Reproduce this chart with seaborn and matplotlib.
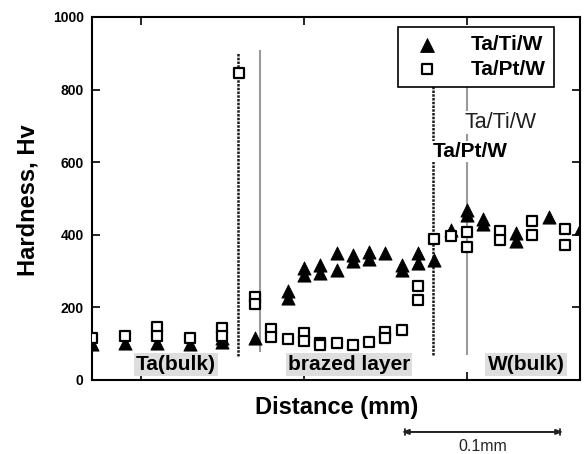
import numpy as np
import pandas as pd
import matplotlib
matplotlib.use("Agg")
import matplotlib.pyplot as plt
import seaborn as sns

# Hardness traverse across the joint (distance in mm, hardness in Hv)
titi_x = [0.07, 0.09, 0.11, 0.13, 0.15, 0.15, 0.17, 0.19, 0.19, 0.20, 0.20,
          0.21, 0.21, 0.22, 0.22, 0.23, 0.23, 0.24, 0.24, 0.25, 0.26, 0.26,
          0.27, 0.27, 0.28, 0.29, 0.30, 0.30, 0.31, 0.31, 0.33, 0.33, 0.35, 0.37]
titi_hv = [99, 103, 101, 99, 115, 106, 115, 246, 225, 309, 290,
           316, 294, 350, 303, 345, 327, 352, 333, 350, 318, 304,
           349, 322, 331, 414, 469, 455, 444, 430, 406, 382, 448, 418]

ptw_x = [0.07, 0.09, 0.11, 0.11, 0.13, 0.15, 0.15, 0.16, 0.17, 0.17, 0.18, 0.18,
         0.19, 0.20, 0.20, 0.21, 0.21, 0.22, 0.23, 0.24, 0.25, 0.25, 0.26,
         0.27, 0.27, 0.28, 0.29, 0.30, 0.30, 0.32, 0.32, 0.34, 0.34, 0.36, 0.36]
ptw_hv = [115, 121, 147, 120, 115, 143, 120, 846, 228, 210, 140, 118,
          112, 130, 108, 101, 97, 103, 97, 106, 133, 115, 138,
          260, 219, 389, 398, 407, 366, 410, 385, 439, 400, 417, 372]

series_names = ["Ta/Ti/W", "Ta/Pt/W"]
region_names = ["Ta(bulk)", "brazed layer", "W(bulk)"]
region_x = [0.1215, 0.2276, 0.3362]

# interface positions (mm): dotted = Ta/Pt/W, grey = Ta/Ti/W
iface_ptw = [0.1595, 0.279]
iface_titi = [0.173, 0.3003]

titi = pd.DataFrame({"distance": titi_x, "hardness": titi_hv})
ptw = pd.DataFrame({"distance": ptw_x, "hardness": ptw_hv})

sns.set_style("ticks")
plt.rcParams["font.family"] = ["Liberation Sans", "DejaVu Sans"]
plt.rcParams.update({"text.color": "black", "axes.labelcolor": "black",
                     "xtick.color": "black", "ytick.color": "black"})

fig = plt.figure(figsize=(5.84, 4.54), dpi=100)
ax = fig.add_axes([0.1575, 0.163, 0.8356, 0.7996])

# interface lines
ax.vlines(iface_ptw[0], 66, 902, colors="#1a1a1a", linestyles=(0, (1, 0.5)), lw=1.8, zorder=1)
ax.vlines(iface_titi[0], 76, 910, colors="#9a9a9a", lw=1.5, zorder=1)
ax.vlines(iface_ptw[1], 69, 820, colors="#1a1a1a", linestyles=(0, (1, 0.5)), lw=1.8, zorder=1)
ax.vlines(iface_titi[1], 69, 820, colors="#9a9a9a", lw=1.5, zorder=1)

sns.scatterplot(data=titi, x="distance", y="hardness", ax=ax, marker="^", s=90,
                color="black", edgecolor="black", linewidth=0.6,
                label=series_names[0], zorder=3)
sns.scatterplot(data=ptw, x="distance", y="hardness", ax=ax, marker="s", s=52,
                color="white", edgecolor="black", linewidth=1.6,
                label=series_names[1], zorder=4)

ax.set_xlim(0.07, 0.3693)
ax.set_ylim(0, 1000)
ax.set_yticks([0, 200, 400, 600, 800, 1000])
ax.set_xticks([0.1, 0.2, 0.3])
ax.set_xticklabels([])
ax.tick_params(direction="in", length=6, width=1.2, top=True, right=True, pad=6)
for lbl in ax.get_yticklabels():
    lbl.set_fontweight("bold")
    lbl.set_fontsize(10)
for sp in ax.spines.values():
    sp.set_linewidth(1.5)
    sp.set_color("black")

ax.set_xlabel("Distance (mm)", fontsize=17, fontweight="bold")
ax.set_ylabel("Hardness, Hv", fontsize=17, fontweight="bold")
ax.xaxis.set_label_coords(0.502, -0.045)
ax.yaxis.set_label_coords(-0.108, 0.496)

# region labels
for name, xc in zip(region_names, region_x):
    ax.text(xc, 42, name, ha="center", va="center", fontsize=15, fontweight="bold",
            bbox=dict(boxstyle="square,pad=0.1", fc="#dedede", ec="none"), zorder=5)

# interface annotations
ax.text(0.2985, 709, "Ta/Ti/W", ha="left", va="center", fontsize=15.5, color="#1f1f1f",
        bbox=dict(boxstyle="square,pad=0.05", fc="white", ec="none"), zorder=5)
ax.text(0.279, 629, "Ta/Pt/W", ha="left", va="center", fontsize=15, fontweight="bold",
        color="black", bbox=dict(boxstyle="square,pad=0.05", fc="white", ec="none"), zorder=5)

handles, labels = ax.get_legend_handles_labels()
leg = ax.legend(handles, labels, loc="upper right", bbox_to_anchor=(0.947, 0.972),
                frameon=True, fancybox=False, edgecolor="black", framealpha=1,
                prop=dict(weight="bold", size=15), handlelength=2.0,
                handletextpad=1.1, labelspacing=0.25, borderpad=0.4,
                borderaxespad=0, markerscale=1.05)
leg.get_frame().set_linewidth(1.2)
leg.set_zorder(6)

# 0.1 mm scale bar under the axis
ax.annotate("", xy=(0.26, -0.143), xytext=(0.359, -0.143),
            xycoords=("data", "axes fraction"), textcoords=("data", "axes fraction"),
            arrowprops=dict(arrowstyle="|-|,widthA=0.2,widthB=0.2", color="#222222", lw=1.3),
            annotation_clip=False)
ax.annotate("", xy=(0.26, -0.143), xytext=(0.359, -0.143),
            xycoords=("data", "axes fraction"), textcoords=("data", "axes fraction"),
            arrowprops=dict(arrowstyle="<|-|>,head_length=0.4,head_width=0.15",
                            color="#222222", lw=1.3, shrinkA=0, shrinkB=0),
            annotation_clip=False)
ax.text(0.3095, -0.163, "0.1mm", transform=ax.get_xaxis_transform(), ha="center",
        va="top", fontsize=11.5, color="#222222", clip_on=False)

fig.savefig("out.png", dpi=100)
